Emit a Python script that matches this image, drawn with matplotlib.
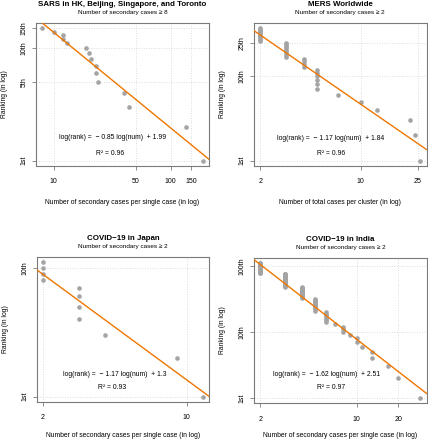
#!/usr/bin/env python3
"""Rank-size plots of secondary cases (log-log) for SARS, MERS and COVID-19."""
import matplotlib

matplotlib.use("Agg")
import matplotlib.pyplot as plt
import numpy as np

plt.rcParams["font.family"] = ["Liberation Sans", "DejaVu Sans"]

W, H = 428, 440
PT_COLOR = "#A4A4A4"
LINE_COLOR = "#EE7600"
FRAME = "#7A7A7A"

# cases per index case, listed from largest (rank 1st) down
sars_vals = [187, 136, 44, 40, 24, 23, 23, 21, 20, 19, 13, 12, 12, 10, 8]
sars_counts = [1] * len(sars_vals)
mers_vals = [26, 24, 22, 13, 10, 7, 5, 4, 3, 2]
mers_counts = [1, 1, 1, 1, 1, 1, 6, 4, 9, 12]
japan_vals = [12, 9, 4, 3, 2]
japan_counts = [1, 1, 1, 4, 4]
india_vals = [29, 20, 17, 13, 11, 10, 9, 8, 7, 6, 5, 4, 3, 2]
india_counts = [1, 1, 1, 2, 1, 2, 1, 3, 1, 7, 12, 16, 29, 34]

panels = [
    dict(vals=sars_vals, counts=sars_counts,
         title="SARS in HK, Beijing, Singapore, and Toronto",
         sub="Number of secondary cases \u2265 8",
         xlabel="Number of secondary cases per single case (in log)",
         xticks=[10, 50, 100, 150], yticks=[1, 5, 10, 15],
         ylabels=["1st", "5th", "10th", "15th"],
         slope=-0.85, icpt=1.99, r2="0.96",
         box=(36, 23, 209, 166), eq=(0.445, 0.196), r2pos=(0.43, 0.09), xlab_dy=36),
    dict(vals=mers_vals, counts=mers_counts,
         title="MERS Worldwide",
         sub="Number of secondary cases \u2265 2",
         xlabel="Number of total cases per cluster (in log)",
         xticks=[2, 10, 25], yticks=[1, 10, 25],
         ylabels=["1st", "10th", "25th"],
         slope=-1.17, icpt=1.84, r2="0.96",
         box=(254, 23, 426.5, 166), eq=(0.445, 0.19), r2pos=(0.446, 0.084), xlab_dy=36),
    dict(vals=japan_vals, counts=japan_counts,
         title="COVID\u221219 in Japan",
         sub="Number of secondary cases \u2265 2",
         xlabel="Number of secondary cases per single case (in log)",
         xticks=[2, 10], yticks=[1, 10],
         ylabels=["1st", "10th"],
         slope=-1.17, icpt=1.3, r2="0.93",
         box=(36.7, 257, 209.3, 402), eq=(0.454, 0.19), r2pos=(0.438, 0.098), xlab_dy=33),
    dict(vals=india_vals, counts=india_counts,
         title="COVID\u221219 in India",
         sub="Number of secondary cases \u2265 2",
         xlabel="Number of secondary cases per single case (in log)",
         xticks=[2, 10, 20], yticks=[1, 10, 100],
         ylabels=["1st", "10th", "100th"],
         slope=-1.62, icpt=2.51, r2="0.97",
         box=(254, 257.7, 426.7, 403.3), eq=(0.421, 0.2), r2pos=(0.448, 0.107), xlab_dy=32),
]


def log_lim(lo, hi):
    a, b = np.log10(lo), np.log10(hi)
    r = b - a
    return 10 ** (a - 0.04 * r), 10 ** (b + 0.04 * r)


def draw(fig, p):
    x0, y0, x1, y1 = p["box"]
    ax = fig.add_axes([x0 / W, 1 - y1 / H, (x1 - x0) / W, (y1 - y0) / H])
    x = np.repeat(p["vals"], p["counts"])
    rank = np.arange(1, len(x) + 1)

    ax.set_xscale("log"); ax.set_yscale("log")
    xlim = log_lim(x.min(), x.max())
    ax.set_xlim(*xlim); ax.set_ylim(*log_lim(1, len(x)))

    for t in p["xticks"]:
        ax.axvline(t, color="#D0D0D0", ls=(0, (1, 2)), lw=0.6, zorder=0)
    for t in p["yticks"]:
        ax.axhline(t, color="#D0D0D0", ls=(0, (1, 2)), lw=0.6, zorder=0)

    ax.scatter(x, rank, s=11, color=PT_COLOR, lw=0, zorder=2)
    xl = np.array(xlim)
    ax.plot(xl, 10 ** p["icpt"] * xl ** p["slope"], color=LINE_COLOR, lw=1.0, zorder=3)

    ax.xaxis.set_minor_locator(matplotlib.ticker.NullLocator())
    ax.yaxis.set_minor_locator(matplotlib.ticker.NullLocator())
    ax.set_xticks(p["xticks"], [str(t) for t in p["xticks"]])
    ax.set_yticks(p["yticks"], p["ylabels"])
    ax.tick_params(axis="x", length=3, width=0.6, color=FRAME, pad=5.8, labelsize=5.0)
    ax.tick_params(axis="y", length=3, width=0.6, color=FRAME, pad=3.2, labelsize=5.0)
    for lab in ax.get_yticklabels():
        lab.set_rotation(90); lab.set_va("center")
    for s in ax.spines.values():
        s.set_color(FRAME); s.set_linewidth(0.8)

    ax.text(*p["eq"], f"log(rank) =  \u2212 {abs(p['slope'])} log(num)  + {p['icpt']}",
            transform=ax.transAxes, ha="center", va="center", fontsize=4.9)
    ax.text(*p["r2pos"], f"R\u00b2 = {p['r2']}", transform=ax.transAxes,
            ha="center", va="center", fontsize=4.9)

    cx = (x0 + x1) / 2 / W
    fig.text(cx, 1 - (y0 - 18.5) / H, p["title"], ha="center", va="center",
             fontsize=5.7, fontweight="bold")
    fig.text(cx, 1 - (y0 - 10.5) / H, p["sub"], ha="center", va="center", fontsize=4.6)
    fig.text(cx, 1 - (y1 + p["xlab_dy"]) / H, p["xlabel"], ha="center", va="center",
             fontsize=4.9)
    fig.text((x0 - 31) / W, 1 - (y0 + y1) / 2 / H, "Ranking (in log)", ha="center",
             va="center", rotation=90, fontsize=4.9)


def main():
    fig = plt.figure(figsize=(W / 100, H / 100), dpi=100)
    for p in panels:
        draw(fig, p)
    fig.savefig("out.png", dpi=100)
    plt.close(fig)


if __name__ == "__main__":
    main()
